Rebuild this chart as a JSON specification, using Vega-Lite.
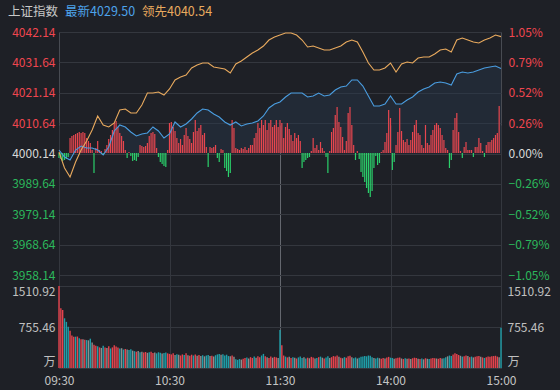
{
"$schema": "https://vega.github.io/schema/vega-lite/v6.json",
"width": 442, "height": 336,
"autosize": {"type": "none"},
"padding": {"left": 59, "top": 32, "right": 59, "bottom": 22},
"background": "#1e2026",
"config": {
  "view": {"stroke": "#484b52", "strokeWidth": 1},
  "font": "Noto Sans CJK SC",
  "axis": {"labelFont": "Noto Sans CJK SC", "labelFontSize": 12, "ticks": false, "domain": false, "gridColor": "#34373e", "gridWidth": 1, "labelOverlap": false},
  "axisX": {"labelExpr": "datum.value == 0 ? '09:30' : datum.value == 60 ? '10:30' : datum.value == 120 ? '11:30' : datum.value == 180 ? '14:00' : '15:00'", "grid": true, "gridColor": {"condition": {"test": "datum.value == 120", "value": "#64676e"}, "value": "#34373e"}, "labelColor": "#c4c4c4", "labelPadding": 7, "labelFlush": false, "title": null},
  "text": {"font": "Noto Sans CJK SC"}
},
"datasets": {
"line": [
{"t":0,"p":4001.35,"l":4000.66},{"t":3,"p":3998.93,"l":3995.13},{"t":6,"p":3997.89,"l":3992.02},{"t":9,"p":4001.35,"l":3997.2},{"t":12,"p":4002.73,"l":4001.35},{"t":15,"p":4002.04,"l":4004.46},{"t":18,"p":4002.04,"l":4008.26},{"t":21,"p":4001.35,"l":4013.1},{"t":24,"p":3999.62,"l":4009.99},{"t":27,"p":4002.39,"l":4009.3},{"t":30,"p":4007.92,"l":4010.68},{"t":33,"p":4009.99,"l":4015.18},{"t":36,"p":4009.3,"l":4015.52},{"t":39,"p":4007.57,"l":4014.14},{"t":42,"p":4006.19,"l":4014.14},{"t":45,"p":4006.88,"l":4016.91},{"t":48,"p":4007.23,"l":4021.05},{"t":51,"p":4009.3,"l":4021.05},{"t":54,"p":4007.92,"l":4021.4},{"t":57,"p":4005.5,"l":4020.36},{"t":60,"p":4006.88,"l":4022.44},{"t":63,"p":4011.03,"l":4025.55},{"t":66,"p":4009.3,"l":4026.58},{"t":69,"p":4010.34,"l":4027.28},{"t":72,"p":4012.07,"l":4029.7},{"t":75,"p":4014.14,"l":4030.73},{"t":78,"p":4015.52,"l":4031.42},{"t":81,"p":4015.18,"l":4031.42},{"t":84,"p":4013.79,"l":4030.04},{"t":87,"p":4012.76,"l":4029.7},{"t":90,"p":4011.03,"l":4029.35},{"t":93,"p":4009.99,"l":4027.97},{"t":96,"p":4011.03,"l":4031.08},{"t":99,"p":4009.65,"l":4032.12},{"t":102,"p":4010.34,"l":4033.5},{"t":105,"p":4010.68,"l":4034.88},{"t":108,"p":4011.38,"l":4035.92},{"t":111,"p":4013.1,"l":4037.3},{"t":114,"p":4015.87,"l":4039.37},{"t":117,"p":4017.25,"l":4040.41},{"t":120,"p":4017.94,"l":4041.1},{"t":123,"p":4019.67,"l":4041.79},{"t":126,"p":4021.05,"l":4041.79},{"t":129,"p":4021.05,"l":4041.1},{"t":132,"p":4021.05,"l":4039.37},{"t":135,"p":4019.67,"l":4036.95},{"t":138,"p":4020.02,"l":4037.3},{"t":141,"p":4021.05,"l":4036.61},{"t":144,"p":4020.02,"l":4035.92},{"t":147,"p":4020.36,"l":4035.92},{"t":150,"p":4022.09,"l":4036.61},{"t":153,"p":4023.13,"l":4037.3},{"t":156,"p":4023.47,"l":4038.68},{"t":159,"p":4025.55,"l":4039.37},{"t":162,"p":4025.55,"l":4038.68},{"t":165,"p":4023.47,"l":4035.23},{"t":168,"p":4020.02,"l":4031.42},{"t":171,"p":4016.56,"l":4029.0},{"t":174,"p":4016.56,"l":4029.0},{"t":177,"p":4017.25,"l":4029.7},{"t":180,"p":4020.02,"l":4031.42},{"t":183,"p":4017.25,"l":4028.31},{"t":186,"p":4017.25,"l":4031.08},{"t":189,"p":4018.63,"l":4031.77},{"t":192,"p":4019.67,"l":4031.42},{"t":195,"p":4021.4,"l":4033.15},{"t":198,"p":4022.44,"l":4033.5},{"t":201,"p":4023.13,"l":4033.5},{"t":204,"p":4024.51,"l":4034.54},{"t":207,"p":4024.86,"l":4035.92},{"t":210,"p":4024.51,"l":4036.26},{"t":213,"p":4023.82,"l":4035.23},{"t":216,"p":4027.62,"l":4039.37},{"t":219,"p":4028.31,"l":4040.07},{"t":222,"p":4027.97,"l":4039.37},{"t":225,"p":4028.31,"l":4038.68},{"t":228,"p":4029.0,"l":4038.34},{"t":231,"p":4029.7,"l":4039.37},{"t":234,"p":4030.04,"l":4040.07},{"t":237,"p":4030.39,"l":4041.1},{"t":240,"p":4029.5,"l":4040.54}
],
"pw": [
{"t":0,"v":-5},{"t":1,"v":-6},{"t":2,"v":-8},{"t":3,"v":-7},{"t":4,"v":-6},{"t":5,"v":-4},{"t":6,"v":15},{"t":7,"v":17},{"t":8,"v":18},{"t":9,"v":19},
{"t":10,"v":20},{"t":11,"v":21},{"t":12,"v":20},{"t":13,"v":21},{"t":14,"v":20},{"t":15,"v":15},{"t":16,"v":12},{"t":17,"v":10},{"t":18,"v":3},{"t":19,"v":-20},
{"t":20,"v":5},{"t":21,"v":12},{"t":22,"v":3},{"t":23,"v":2},{"t":24,"v":-2},{"t":25,"v":4},{"t":26,"v":8},{"t":27,"v":14},{"t":28,"v":18},{"t":29,"v":23},
{"t":30,"v":30},{"t":31,"v":32},{"t":32,"v":26},{"t":33,"v":20},{"t":34,"v":17},{"t":35,"v":12},{"t":36,"v":3},{"t":37,"v":-5},{"t":38,"v":1},{"t":39,"v":-3},
{"t":40,"v":-8},{"t":41,"v":-7},{"t":42,"v":-8},{"t":43,"v":-4},{"t":44,"v":8},{"t":45,"v":7},{"t":46,"v":6},{"t":47,"v":7},{"t":48,"v":10},{"t":49,"v":17},
{"t":50,"v":20},{"t":51,"v":21},{"t":52,"v":19},{"t":53,"v":5},{"t":54,"v":-4},{"t":55,"v":-9},{"t":56,"v":-11},{"t":57,"v":-13},{"t":58,"v":-14},{"t":59,"v":3},
{"t":60,"v":30},{"t":61,"v":31},{"t":62,"v":26},{"t":63,"v":22},{"t":64,"v":15},{"t":65,"v":10},{"t":66,"v":14},{"t":67,"v":8},{"t":68,"v":18},{"t":69,"v":25},
{"t":70,"v":17},{"t":71,"v":14},{"t":72,"v":10},{"t":73,"v":21},{"t":74,"v":33},{"t":75,"v":22},{"t":76,"v":25},{"t":77,"v":28},{"t":78,"v":18},{"t":79,"v":20},
{"t":80,"v":6},{"t":81,"v":-14},{"t":82,"v":6},{"t":83,"v":5},{"t":84,"v":6},{"t":85,"v":8},{"t":86,"v":-5},{"t":87,"v":-9},{"t":88,"v":4},{"t":89,"v":3},
{"t":90,"v":-15},{"t":91,"v":-18},{"t":92,"v":-24},{"t":93,"v":-20},{"t":94,"v":33},{"t":95,"v":25},{"t":96,"v":5},{"t":97,"v":4},{"t":98,"v":3},{"t":99,"v":5},
{"t":100,"v":4},{"t":101,"v":6},{"t":102,"v":3},{"t":103,"v":5},{"t":104,"v":8},{"t":105,"v":8},{"t":106,"v":15},{"t":107,"v":20},{"t":108,"v":30},{"t":109,"v":25},
{"t":110,"v":33},{"t":111,"v":28},{"t":112,"v":33},{"t":113,"v":23},{"t":114,"v":30},{"t":115,"v":33},{"t":116,"v":26},{"t":117,"v":28},{"t":118,"v":33},{"t":119,"v":26},
{"t":120,"v":33},{"t":121,"v":30},{"t":122,"v":15},{"t":123,"v":26},{"t":124,"v":30},{"t":125,"v":24},{"t":126,"v":18},{"t":127,"v":12},{"t":128,"v":20},{"t":129,"v":15},
{"t":130,"v":18},{"t":131,"v":12},{"t":132,"v":-15},{"t":133,"v":-9},{"t":134,"v":-7},{"t":135,"v":-5},{"t":136,"v":-4},{"t":137,"v":2},{"t":138,"v":15},{"t":139,"v":5},
{"t":140,"v":8},{"t":141,"v":3},{"t":142,"v":11},{"t":143,"v":5},{"t":144,"v":2},{"t":145,"v":-4},{"t":146,"v":-20},{"t":147,"v":2},{"t":148,"v":21},{"t":149,"v":25},
{"t":150,"v":38},{"t":151,"v":46},{"t":152,"v":31},{"t":153,"v":26},{"t":154,"v":16},{"t":155,"v":3},{"t":156,"v":12},{"t":157,"v":40},{"t":158,"v":46},{"t":159,"v":28},
{"t":160,"v":8},{"t":161,"v":-7},{"t":162,"v":2},{"t":163,"v":-6},{"t":164,"v":-19},{"t":165,"v":-24},{"t":166,"v":-29},{"t":167,"v":-35},{"t":168,"v":-40},{"t":169,"v":-44},
{"t":170,"v":-38},{"t":171,"v":-15},{"t":172,"v":-3},{"t":173,"v":-12},{"t":174,"v":-10},{"t":175,"v":1},{"t":176,"v":3},{"t":177,"v":11},{"t":178,"v":20},{"t":179,"v":43},
{"t":180,"v":35},{"t":181,"v":-17},{"t":182,"v":-9},{"t":183,"v":8},{"t":184,"v":21},{"t":185,"v":45},{"t":186,"v":22},{"t":187,"v":13},{"t":188,"v":11},{"t":189,"v":14},
{"t":190,"v":8},{"t":191,"v":13},{"t":192,"v":21},{"t":193,"v":28},{"t":194,"v":33},{"t":195,"v":20},{"t":196,"v":18},{"t":197,"v":8},{"t":198,"v":5},{"t":199,"v":28},
{"t":200,"v":10},{"t":201,"v":8},{"t":202,"v":18},{"t":203,"v":23},{"t":204,"v":28},{"t":205,"v":30},{"t":206,"v":28},{"t":207,"v":25},{"t":208,"v":18},{"t":209,"v":13},
{"t":210,"v":5},{"t":211,"v":3},{"t":212,"v":-15},{"t":213,"v":-7},{"t":214,"v":23},{"t":215,"v":35},{"t":216,"v":40},{"t":217,"v":21},{"t":218,"v":2},{"t":219,"v":-5},
{"t":220,"v":6},{"t":221,"v":11},{"t":222,"v":3},{"t":223,"v":3},{"t":224,"v":3},{"t":225,"v":-4},{"t":226,"v":6},{"t":227,"v":6},{"t":228,"v":15},{"t":229,"v":10},
{"t":230,"v":2},{"t":231,"v":-4},{"t":232,"v":8},{"t":233,"v":11},{"t":234,"v":11},{"t":235,"v":13},{"t":236,"v":15},{"t":237,"v":18},{"t":238,"v":20},{"t":239,"v":47}
],
"vol": [
{"t":0,"v":1510,"c":"u"},{"t":1,"v":1100,"c":"u"},{"t":2,"v":1069,"c":"u"},{"t":3,"v":916,"c":"d"},{"t":4,"v":850,"c":"d"},{"t":5,"v":761,"c":"d"},{"t":6,"v":688,"c":"u"},{"t":7,"v":600,"c":"u"},{"t":8,"v":577,"c":"u"},{"t":9,"v":577,"c":"d"},
{"t":10,"v":580,"c":"u"},{"t":11,"v":550,"c":"d"},{"t":12,"v":530,"c":"u"},{"t":13,"v":530,"c":"f"},{"t":14,"v":520,"c":"u"},{"t":15,"v":515,"c":"d"},{"t":16,"v":510,"c":"f"},{"t":17,"v":540,"c":"d"},{"t":18,"v":470,"c":"f"},{"t":19,"v":430,"c":"u"},
{"t":20,"v":410,"c":"u"},{"t":21,"v":400,"c":"d"},{"t":22,"v":380,"c":"u"},{"t":23,"v":370,"c":"f"},{"t":24,"v":410,"c":"d"},{"t":25,"v":380,"c":"u"},{"t":26,"v":370,"c":"f"},{"t":27,"v":400,"c":"u"},{"t":28,"v":360,"c":"d"},{"t":29,"v":380,"c":"u"},
{"t":30,"v":420,"c":"u"},{"t":31,"v":395,"c":"u"},{"t":32,"v":380,"c":"u"},{"t":33,"v":360,"c":"d"},{"t":34,"v":365,"c":"f"},{"t":35,"v":340,"c":"d"},{"t":36,"v":350,"c":"u"},{"t":37,"v":340,"c":"f"},{"t":38,"v":330,"c":"d"},{"t":39,"v":345,"c":"d"},
{"t":40,"v":320,"c":"f"},{"t":41,"v":310,"c":"d"},{"t":42,"v":300,"c":"u"},{"t":43,"v":315,"c":"f"},{"t":44,"v":290,"c":"d"},{"t":45,"v":300,"c":"f"},{"t":46,"v":285,"c":"u"},{"t":47,"v":295,"c":"u"},{"t":48,"v":280,"c":"f"},{"t":49,"v":290,"c":"d"},
{"t":50,"v":300,"c":"u"},{"t":51,"v":275,"c":"u"},{"t":52,"v":285,"c":"f"},{"t":53,"v":270,"c":"d"},{"t":54,"v":290,"c":"d"},{"t":55,"v":280,"c":"d"},{"t":56,"v":265,"c":"f"},{"t":57,"v":275,"c":"d"},{"t":58,"v":285,"c":"d"},{"t":59,"v":270,"c":"u"},
{"t":60,"v":260,"c":"u"},{"t":61,"v":250,"c":"u"},{"t":62,"v":270,"c":"u"},{"t":63,"v":240,"c":"f"},{"t":64,"v":255,"c":"d"},{"t":65,"v":245,"c":"f"},{"t":66,"v":230,"c":"u"},{"t":67,"v":250,"c":"u"},{"t":68,"v":240,"c":"d"},{"t":69,"v":270,"c":"u"},
{"t":70,"v":235,"c":"f"},{"t":71,"v":225,"c":"u"},{"t":72,"v":245,"c":"u"},{"t":73,"v":230,"c":"d"},{"t":74,"v":250,"c":"u"},{"t":75,"v":225,"c":"f"},{"t":76,"v":240,"c":"u"},{"t":77,"v":220,"c":"f"},{"t":78,"v":235,"c":"d"},{"t":79,"v":215,"c":"f"},
{"t":80,"v":230,"c":"d"},{"t":81,"v":240,"c":"d"},{"t":82,"v":220,"c":"f"},{"t":83,"v":225,"c":"u"},{"t":84,"v":210,"c":"f"},{"t":85,"v":235,"c":"d"},{"t":86,"v":250,"c":"d"},{"t":87,"v":260,"c":"d"},{"t":88,"v":245,"c":"f"},{"t":89,"v":255,"c":"d"},
{"t":90,"v":230,"c":"d"},{"t":91,"v":245,"c":"d"},{"t":92,"v":220,"c":"d"},{"t":93,"v":215,"c":"f"},{"t":94,"v":230,"c":"u"},{"t":95,"v":205,"c":"f"},{"t":96,"v":160,"c":"d"},{"t":97,"v":150,"c":"d"},{"t":98,"v":165,"c":"d"},{"t":99,"v":155,"c":"f"},
{"t":100,"v":170,"c":"u"},{"t":101,"v":185,"c":"u"},{"t":102,"v":195,"c":"d"},{"t":103,"v":175,"c":"f"},{"t":104,"v":200,"c":"u"},{"t":105,"v":185,"c":"u"},{"t":106,"v":210,"c":"d"},{"t":107,"v":190,"c":"f"},{"t":108,"v":215,"c":"u"},{"t":109,"v":200,"c":"u"},
{"t":110,"v":230,"c":"d"},{"t":111,"v":260,"c":"d"},{"t":112,"v":215,"c":"u"},{"t":113,"v":200,"c":"f"},{"t":114,"v":185,"c":"u"},{"t":115,"v":210,"c":"u"},{"t":116,"v":190,"c":"f"},{"t":117,"v":205,"c":"u"},{"t":118,"v":195,"c":"u"},{"t":119,"v":185,"c":"f"},
{"t":120,"v":700,"c":"d"},{"t":121,"v":420,"c":"u"},{"t":122,"v":230,"c":"u"},{"t":123,"v":210,"c":"d"},{"t":124,"v":195,"c":"u"},{"t":125,"v":205,"c":"f"},{"t":126,"v":185,"c":"u"},{"t":127,"v":200,"c":"d"},{"t":128,"v":190,"c":"f"},{"t":129,"v":175,"c":"u"},
{"t":130,"v":195,"c":"d"},{"t":131,"v":210,"c":"d"},{"t":132,"v":185,"c":"d"},{"t":133,"v":200,"c":"f"},{"t":134,"v":175,"c":"d"},{"t":135,"v":190,"c":"u"},{"t":136,"v":180,"c":"f"},{"t":137,"v":205,"c":"u"},{"t":138,"v":195,"c":"u"},{"t":139,"v":175,"c":"f"},
{"t":140,"v":185,"c":"d"},{"t":141,"v":200,"c":"u"},{"t":142,"v":210,"c":"d"},{"t":143,"v":190,"c":"f"},{"t":144,"v":175,"c":"u"},{"t":145,"v":195,"c":"d"},{"t":146,"v":215,"c":"d"},{"t":147,"v":185,"c":"f"},{"t":148,"v":200,"c":"u"},{"t":149,"v":220,"c":"u"},
{"t":150,"v":210,"c":"u"},{"t":151,"v":230,"c":"u"},{"t":152,"v":205,"c":"f"},{"t":153,"v":190,"c":"u"},{"t":154,"v":180,"c":"f"},{"t":155,"v":200,"c":"d"},{"t":156,"v":190,"c":"u"},{"t":157,"v":215,"c":"u"},{"t":158,"v":225,"c":"u"},{"t":159,"v":200,"c":"f"},
{"t":160,"v":180,"c":"d"},{"t":161,"v":195,"c":"d"},{"t":162,"v":175,"c":"f"},{"t":163,"v":190,"c":"d"},{"t":164,"v":205,"c":"d"},{"t":165,"v":210,"c":"d"},{"t":166,"v":220,"c":"d"},{"t":167,"v":215,"c":"d"},{"t":168,"v":230,"c":"d"},{"t":169,"v":225,"c":"d"},
{"t":170,"v":200,"c":"d"},{"t":171,"v":185,"c":"f"},{"t":172,"v":175,"c":"d"},{"t":173,"v":190,"c":"d"},{"t":174,"v":180,"c":"f"},{"t":175,"v":170,"c":"u"},{"t":176,"v":185,"c":"u"},{"t":177,"v":175,"c":"f"},{"t":178,"v":195,"c":"u"},{"t":179,"v":205,"c":"u"},
{"t":180,"v":190,"c":"d"},{"t":181,"v":185,"c":"d"},{"t":182,"v":170,"c":"f"},{"t":183,"v":180,"c":"u"},{"t":184,"v":190,"c":"u"},{"t":185,"v":195,"c":"u"},{"t":186,"v":175,"c":"f"},{"t":187,"v":165,"c":"u"},{"t":188,"v":180,"c":"d"},{"t":189,"v":170,"c":"f"},
{"t":190,"v":175,"c":"u"},{"t":191,"v":165,"c":"f"},{"t":192,"v":180,"c":"u"},{"t":193,"v":190,"c":"u"},{"t":194,"v":185,"c":"u"},{"t":195,"v":170,"c":"f"},{"t":196,"v":165,"c":"u"},{"t":197,"v":175,"c":"d"},{"t":198,"v":160,"c":"f"},{"t":199,"v":180,"c":"u"},
{"t":200,"v":170,"c":"f"},{"t":201,"v":165,"c":"d"},{"t":202,"v":175,"c":"u"},{"t":203,"v":185,"c":"u"},{"t":204,"v":180,"c":"u"},{"t":205,"v":175,"c":"f"},{"t":206,"v":170,"c":"u"},{"t":207,"v":185,"c":"u"},{"t":208,"v":175,"c":"f"},{"t":209,"v":180,"c":"d"},
{"t":210,"v":200,"c":"d"},{"t":211,"v":215,"c":"f"},{"t":212,"v":230,"c":"d"},{"t":213,"v":220,"c":"d"},{"t":214,"v":250,"c":"u"},{"t":215,"v":270,"c":"u"},{"t":216,"v":260,"c":"u"},{"t":217,"v":240,"c":"u"},{"t":218,"v":225,"c":"f"},{"t":219,"v":210,"c":"d"},
{"t":220,"v":215,"c":"u"},{"t":221,"v":230,"c":"u"},{"t":222,"v":220,"c":"f"},{"t":223,"v":200,"c":"u"},{"t":224,"v":210,"c":"d"},{"t":225,"v":195,"c":"f"},{"t":226,"v":205,"c":"u"},{"t":227,"v":215,"c":"u"},{"t":228,"v":220,"c":"u"},{"t":229,"v":205,"c":"f"},
{"t":230,"v":195,"c":"u"},{"t":231,"v":185,"c":"d"},{"t":232,"v":200,"c":"u"},{"t":233,"v":210,"c":"u"},{"t":234,"v":205,"c":"u"},{"t":235,"v":215,"c":"u"},{"t":236,"v":220,"c":"u"},{"t":237,"v":225,"c":"u"},{"t":238,"v":210,"c":"u"},{"t":239,"v":200,"c":"f"},
{"t":240,"v":740,"c":"d"}
]
},
"layer": [
{
  "data": {"name": "line"},
  "mark": {"type": "area", "color": "#27374c", "opacity": 0.45},
  "encoding": {
    "x": {"field": "t", "type": "quantitative", "scale": {"domain": [0, 240], "nice": false, "zero": false}, "axis": {"values": [0, 60, 120, 180, 240], "title": null}},
    "y": {"field": "p", "type": "quantitative", "scale": {"domain": [3958.14, 4042.14], "range": [243, 0], "zero": false, "nice": false}, "axis": null},
    "y2": {"datum": 4000.14}
  }
},
{
  "data": {"name": "pw"},
  "mark": {"type": "rule", "strokeWidth": 1.2},
  "encoding": {
    "x": {"field": "t", "type": "quantitative", "scale": {"domain": [0, 240], "nice": false, "zero": false}, "axis": {"values": [0, 60, 120, 180, 240], "title": null}},
    "y": {"field": "v", "type": "quantitative", "scale": {"domain": [-122, 121], "range": [243, 0], "zero": false, "nice": false}, "axis": null},
    "y2": {"datum": 0},
    "color": {"condition": {"test": "datum.v > 0", "value": "#e8464f"}, "value": "#2bd06b"}
  }
},
{
  "data": {"name": "vol"},
  "mark": {"type": "rule", "strokeWidth": 1.4},
  "encoding": {
    "x": {"field": "t", "type": "quantitative", "scale": {"domain": [0, 240], "nice": false, "zero": false}, "axis": {"values": [0, 60, 120, 180, 240], "title": null}},
    "y": {"field": "v", "type": "quantitative", "scale": {"domain": [0, 1510.92], "range": [336, 254], "zero": false, "nice": false},
      "axis": {"orient": "left", "values": [0, 755.46, 1510.92], "labelExpr": "datum.value == 0 ? '万' : format(datum.value, '.2f')", "labelFlush": true, "grid": true, "labelPadding": 4, "labelColor": "#c0c0c0", "title": null}},
    "y2": {"datum": 0},
    "color": {"field": "c", "type": "nominal", "scale": {"domain": ["u", "d", "f"], "range": ["#e5434d", "#1f9fa9", "#8e8e8e"]}, "legend": null}
  }
},
{
  "data": {"name": "vol"},
  "mark": {"type": "rule", "strokeWidth": 1, "strokeOpacity": 0},
  "encoding": {
    "x": {"field": "t", "type": "quantitative", "scale": {"domain": [0, 240], "nice": false, "zero": false}, "axis": {"values": [0, 60, 120, 180, 240], "title": null}},
    "y": {"field": "v", "type": "quantitative", "scale": {"domain": [0, 1510.92], "range": [336, 254], "zero": false, "nice": false},
      "axis": {"orient": "right", "values": [0, 755.46, 1510.92], "labelExpr": "datum.value == 0 ? '万' : format(datum.value, '.2f')", "labelFlush": true, "grid": false, "labelPadding": 6, "labelAlign": "left", "labelColor": "#c0c0c0", "title": null}},
    "y2": {"datum": 0}
  }
},
{
  "data": {"name": "line"},
  "mark": {"type": "line", "color": "#4a9de0", "strokeWidth": 1.1},
  "encoding": {
    "x": {"field": "t", "type": "quantitative", "scale": {"domain": [0, 240], "nice": false, "zero": false}, "axis": {"values": [0, 60, 120, 180, 240], "title": null}},
    "y": {"field": "p", "type": "quantitative", "scale": {"domain": [3958.14, 4042.14], "range": [243, 0], "zero": false, "nice": false},
      "axis": {"orient": "left", "values": [3958.14, 3968.64, 3979.14, 3989.64, 4000.14, 4010.64, 4021.14, 4031.64, 4042.14], "format": ".2f", "grid": true, "labelPadding": 4, "labelFlush": false, "title": null,
        "labelColor": {"condition": [{"test": "datum.value > 4000.5", "value": "#f0464f"}, {"test": "datum.value < 3999.5", "value": "#2cb85c"}], "value": "#d8d8d8"}}}
  }
},
{
  "data": {"name": "line"},
  "mark": {"type": "line", "color": "#e9aa5e", "strokeWidth": 1.1},
  "encoding": {
    "x": {"field": "t", "type": "quantitative", "scale": {"domain": [0, 240], "nice": false, "zero": false}, "axis": {"values": [0, 60, 120, 180, 240], "title": null}},
    "y": {"field": "l", "type": "quantitative", "scale": {"domain": [3958.14, 4042.14], "range": [243, 0], "zero": false, "nice": false},
      "axis": {"orient": "right", "values": [3958.14, 3968.64, 3979.14, 3989.64, 4000.14, 4010.64, 4021.14, 4031.64, 4042.14], "labelExpr": "format((datum.value / 4000.14 - 1) * 100, '.2f') + '%'", "grid": false, "labelPadding": 7, "labelAlign": "left", "labelFlush": false, "title": null,
        "labelColor": {"condition": [{"test": "datum.value > 4000.5", "value": "#f0464f"}, {"test": "datum.value < 3999.5", "value": "#2cb85c"}], "value": "#d8d8d8"}}}
  }
},
{
  "data": {"values": [{"t": -27.7, "name": "上证指数"}, {"t": 3.3, "name": "最新4029.50"}, {"t": 45.1, "name": "领先4040.54"}]},
  "mark": {"type": "text", "align": "left", "baseline": "middle", "fontSize": 12.5},
  "encoding": {
    "x": {"field": "t", "type": "quantitative", "scale": {"domain": [0, 240], "nice": false, "zero": false}, "axis": {"values": [0, 60, 120, 180, 240], "title": null}},
    "y": {"datum": 4049.05, "type": "quantitative", "scale": {"domain": [3958.14, 4042.14], "range": [243, 0], "zero": false, "nice": false}, "axis": null},
    "text": {"field": "name"},
    "color": {"field": "name", "type": "nominal", "scale": {"domain": ["上证指数", "最新4029.50", "领先4040.54"], "range": ["#c8c8c8", "#4da3ea", "#e9aa5e"]}, "legend": null}
  }
}
],
"resolve": {"scale": {"y": "independent", "color": "independent"}}
}
